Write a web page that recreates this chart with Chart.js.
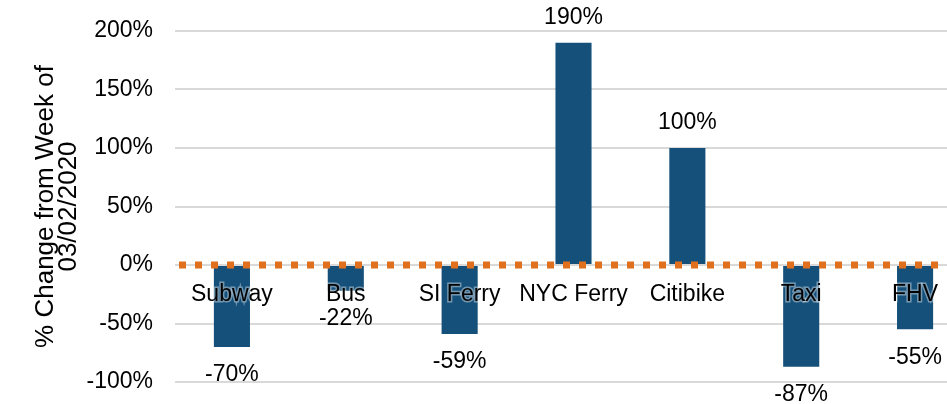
<!DOCTYPE html>
<html>
<head>
<meta charset="utf-8">
<script src="https://cdn.jsdelivr.net/npm/chart.js@4/dist/chart.umd.min.js"></script>
<style>
  html, body { margin: 0; padding: 0; background: #fff; overflow: hidden; }
  #wrap { width: 972px; height: 404px; position: relative; }
</style>
</head>
<body>
<div id="wrap"><canvas id="myChart"></canvas></div>
<script>
'use strict';
const categories = ['Subway', 'Bus', 'SI Ferry', 'NYC Ferry', 'Citibike', 'Taxi', 'FHV'];
const changePct = [-70, -22, -59, 190, 100, -87, -55];
const yTicks = [-100, -50, 0, 50, 100, 150, 200];
const yTitle = ['% Change from Week of', '03/02/2020'];

Chart.defaults.font.family = "'Liberation Sans', Arial, sans-serif";
Chart.defaults.font.size = 23;
Chart.defaults.color = '#000';

// orange dotted line at zero
let zeroLine = {
  id: 'zeroLine',
  afterDatasetsDraw(chart) {
    let ctx = chart.ctx;
    let area = chart.chartArea;
    let y = chart.scales.y.getPixelForValue(0);
    ctx.save();
    ctx.strokeStyle = '#E0701E';
    ctx.lineWidth = 7;
    ctx.setLineDash([7, 9]);
    ctx.beginPath();
    ctx.moveTo(area.left + 4, y);
    ctx.lineTo(area.right, y);
    ctx.stroke();
    ctx.restore();
  }
};

// value labels past the end of each bar
let valueLabels = {
  id: 'valueLabels',
  afterDatasetsDraw(chart) {
    let ctx = chart.ctx;
    let meta = chart.getDatasetMeta(0);
    ctx.save();
    ctx.font = "23px 'Liberation Sans', Arial, sans-serif";
    ctx.fillStyle = '#000';
    ctx.textAlign = 'center';
    ctx.textBaseline = 'middle';
    meta.data.forEach((bar, i) => {
      let v = changePct[i];
      let y = v < 0 ? bar.y + 28 : bar.y - 25;
      ctx.fillText(v + '%', bar.x, y);
    });
    ctx.restore();
  }
};

let ctx = document.getElementById('myChart').getContext('2d');
let myChart = new Chart(ctx, {
  type: 'bar',
  data: {
    labels: categories,
    datasets: [{
      data: changePct,
      backgroundColor: '#15507A',
      barPercentage: 0.317,
      categoryPercentage: 1
    }]
  },
  options: {
    responsive: true,
    maintainAspectRatio: false,
    animation: false,
    layout: { padding: { top: 31, bottom: 22, left: 0, right: 0 } },
    plugins: {
      legend: { display: false },
      tooltip: { enabled: false }
    },
    scales: {
      x: {
        position: { y: 0 },
        afterFit: (s) => { s.height = 0; },
        grid: { display: false, drawTicks: false },
        border: { display: false },
        ticks: {
          z: 1,
          padding: 16,
          maxRotation: 0,
          autoSkip: false,
          textStrokeColor: 'rgba(255,255,255,0.4)',
          textStrokeWidth: 3
        }
      },
      y: {
        min: yTicks[0],
        max: yTicks[yTicks.length - 1],
        afterBuildTicks: (s) => { s.ticks = yTicks.map(v => ({ value: v })); },
        afterFit: (s) => { s.width = 175; },
        grid: { color: '#D9D9D9', lineWidth: 2, drawTicks: true, tickLength: 22, tickColor: 'rgba(0,0,0,0)' },
        border: { display: false },
        ticks: {
          padding: 0,
          callback: (v) => v + '%'
        },
        title: {
          display: true,
          text: yTitle,
          font: { size: 26, lineHeight: 0.9 },
          padding: { top: 34, bottom: 0 }
        }
      }
    }
  },
  plugins: [zeroLine, valueLabels]
});
</script>
</body>
</html>
